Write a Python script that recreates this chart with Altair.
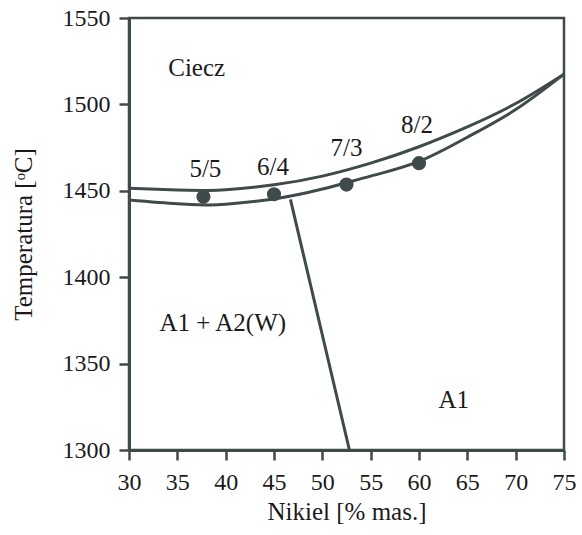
import altair as alt
import pandas as pd

# Liquidus (upper curve)
liq_x = [30, 35, 38, 40, 45, 50, 55, 60, 65, 70, 75]
liq_t = [1451.5, 1450.5, 1450.2, 1450.6, 1453.5, 1458.5, 1466, 1475.5, 1487, 1500.5, 1517.5]
# Solidus (lower curve)
sol_x = [30, 35, 38, 40, 45, 50, 55, 60, 65, 70, 75]
sol_t = [1444.7, 1442.5, 1441.8, 1442.2, 1445.3, 1451, 1458.5, 1467, 1481, 1497, 1517.5]
# Phase boundary A1+A2(W) / A1
bnd_x = [46.7, 52.8]
bnd_t = [1445, 1300]
# Measured points
pt_x = [37.7, 45.0, 52.5, 60.0]
pt_t = [1446.5, 1448, 1453.6, 1466]
pt_lab = ["5/5", "6/4", "7/3", "8/2"]
lab_x = [37.9, 44.9, 52.5, 59.8]
lab_t = [1462.5, 1464, 1474.5, 1488]
# Region labels
reg_lab = ["Ciecz", "A1 + A2(W)", "A1"]
reg_x = [37.0, 39.7, 63.6]
reg_t = [1521, 1373.5, 1329]

C = "#3f4a4a"
FONT = "Liberation Serif"

xs = alt.Scale(domain=[30, 75], nice=False, zero=False)
ys = alt.Scale(domain=[1300, 1550], nice=False, zero=False)

curves = pd.DataFrame(
    {"x": liq_x + sol_x,
     "t": liq_t + sol_t,
     "s": ["liq"] * len(liq_x) + ["sol"] * len(sol_x)}
)
bnd = pd.DataFrame({"x": bnd_x, "t": bnd_t})
pts = pd.DataFrame({"x": pt_x, "t": pt_t})
labs = pd.DataFrame({"x": lab_x, "t": lab_t, "l": pt_lab})
regs = pd.DataFrame({"x": reg_x, "t": reg_t, "l": reg_lab})

X = alt.X("x:Q", scale=xs,
          axis=alt.Axis(values=list(range(30, 80, 5)), title="Nikiel [% mas.]",
                        grid=False, titlePadding=5, format="d", labelPadding=10,
                        labelFlush=False))
Y = alt.Y("t:Q", scale=ys,
          axis=alt.Axis(values=list(range(1300, 1600, 50)), title="Temperatura [ᵒC]",
                        grid=False, titlePadding=26, format="d", labelPadding=9,
                        labelFlush=False))

points = alt.Chart(pts).mark_point(filled=True, shape="circle", size=200, color=C, opacity=1).encode(x=X, y=Y)
lines = alt.Chart(curves).mark_line(color=C, strokeWidth=3, interpolate="natural").encode(
    x=X, y=Y, detail="s:N")
boundary = alt.Chart(bnd).mark_line(color=C, strokeWidth=3).encode(x=X, y=Y)
ptext = alt.Chart(labs).mark_text(font=FONT, fontSize=25, color="#1a1a1a", align="center",
                                  baseline="middle").encode(x=X, y=Y, text="l:N")
rtext = alt.Chart(regs).mark_text(font=FONT, fontSize=25, color="#1a1a1a", align="center",
                                  baseline="middle").encode(x=X, y=Y, text="l:N")

chart = alt.layer(points, lines, boundary, ptext, rtext).properties(
    width=435, height=432,
    autosize=alt.AutoSizeParams(type="none"),
    padding={"left": 129, "top": 18, "right": 18, "bottom": 85},
    background="white",
).configure_view(
    stroke=C, strokeWidth=2.5
).configure_axis(
    domainColor=C, domainWidth=3, tickColor=C, tickWidth=2.5, tickSize=10,
    labelFont=FONT, labelFontSize=24, labelColor="#1a1a1a",
    titleFont=FONT, titleFontSize=25, titleColor="#1a1a1a", titleFontWeight="normal",
)

chart.save("out.html", embed_options={"renderer": "svg", "actions": False})
